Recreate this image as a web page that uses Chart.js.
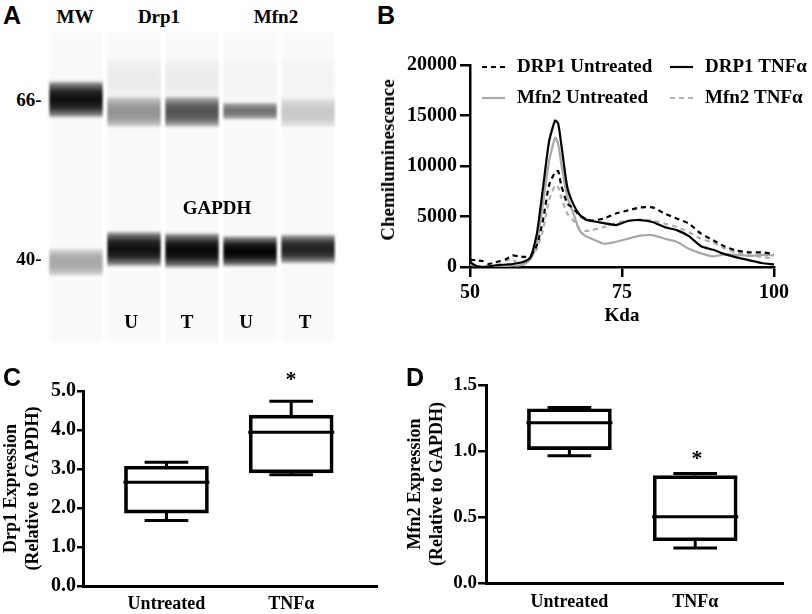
<!DOCTYPE html>
<html>
<head>
<meta charset="utf-8">
<title>Drp1 and Mfn2 expression</title>
<script src="https://cdn.jsdelivr.net/npm/chart.js@4"></script>
<style>
    html, body { margin: 0; padding: 0; background: #fff; }
    #page { position: relative; width: 812px; height: 614px; overflow: hidden; font-family: "Liberation Serif", serif; font-weight: bold; color: #000; }
    canvas { position: absolute; }
    #gel { left: 47px; top: 32px; filter: blur(0.8px); }
    #trace { left: 370px; top: 50px; }
    #drp1 { left: 0; top: 370px; }
    #mfn2 { left: 400px; top: 370px; }
    .t { position: absolute; font-size: 19px; line-height: 20px; white-space: nowrap; transform: translate(-50%, -50%); }
    .p { position: absolute; font-family: "Liberation Sans", sans-serif; font-size: 25px; line-height: 26px; }
    .s { position: absolute; font-size: 22px; line-height: 22px; transform: translate(-50%, -50%); }
</style>
</head>
<body>
<div id="page">
    <canvas id="gel" width="290" height="310"></canvas>
    <canvas id="trace" width="442" height="280"></canvas>
    <canvas id="drp1" width="400" height="244"></canvas>
    <canvas id="mfn2" width="412" height="244"></canvas>

    <div class="p" style="left:3px;top:2px">A</div>
    <div class="p" style="left:377px;top:2px">B</div>
    <div class="p" style="left:3px;top:364px">C</div>
    <div class="p" style="left:406px;top:364px">D</div>

    <div class="t" style="left:75px;top:17px">MW</div>
    <div class="t" style="left:159px;top:17px">Drp1</div>
    <div class="t" style="left:276px;top:17px">Mfn2</div>
    <div class="t" style="left:29px;top:100px">66-</div>
    <div class="t" style="left:29px;top:259px">40-</div>
    <div class="t" style="left:217px;top:208px">GAPDH</div>
    <div class="t" style="left:131px;top:322px">U</div>
    <div class="t" style="left:187px;top:322px">T</div>
    <div class="t" style="left:246px;top:322px">U</div>
    <div class="t" style="left:305px;top:322px">T</div>
    <div class="t" style="left:388px;top:160px;transform:translate(-50%,-50%) rotate(-90deg)">Chemiluminescence</div>

    <div class="s" style="left:291px;top:379px">*</div>
    <div class="s" style="left:697px;top:458px">*</div>
</div>

<script>
// panel A, capillary gel: one value per lane, in percent of the lane length
var lanes = ['MW', 'Drp1 U', 'Drp1 T', 'Mfn2 U', 'Mfn2 T'];
var smearTop = [0, 8, 8, 8, 8];
var smearBottom = [0, 22, 22, 23, 23];
var smearPeak = [0, 0.06, 0.06, 0.025, 0.025];
var upperTop = [15.5, 20.5, 20.5, 22.5, 21];
var upperBottom = [28, 31, 31, 28.5, 31];
var upperPeak = [0.95, 0.42, 0.68, 0.55, 0.2];
var lowerTop = [69.5, 64, 64.5, 65.5, 65];
var lowerBottom = [79, 76, 76.5, 76, 75];
var lowerPeak = [0.33, 0.95, 0.98, 1, 0.88];

// panel B, electropherogram
var kda = [50, 51, 52, 53, 54, 55, 56, 57, 58, 59, 60, 61, 62, 63, 64, 64.5, 65, 66, 67, 68, 69, 70,
    72, 74, 76, 78, 80, 82, 84, 86, 88, 90, 92, 94, 96, 98, 100];
var drp1Untreated = [730, 660, 600, 300, 430, 600, 800, 1150, 1050, 1000, 1150, 2150, 4600, 8100, 9400, 9500, 8100, 6300, 5800, 5100, 4800, 4600,
    4800, 5300, 5600, 5900, 5900, 5300, 4800, 4300, 3300, 2650, 2000, 1600, 1450, 1450, 1300];
var drp1Tnf = [500, 100, 0, 50, 150, 200, 250, 300, 400, 550, 1000, 3300, 7800, 12400, 14500, 14200, 12200, 7900, 6200, 5200, 4700, 4550,
    4350, 4150, 4550, 4650, 4450, 3950, 3650, 3050, 2050, 1700, 1250, 930, 660, 400, 250];
var mfn2Untreated = [300, 100, 0, 20, 30, 50, 100, 150, 150, 300, 800, 2300, 6300, 10400, 12800, 12200, 10250, 6950, 5300, 3650, 3050, 2800,
    2300, 2500, 2800, 3100, 3150, 2800, 2500, 1800, 1350, 1050, 1250, 1200, 1100, 1200, 1150];
var mfn2Tnf = [250, 130, 50, 80, 130, 330, 650, 730, 330, 600, 1000, 1800, 3650, 6600, 8100, 7900, 6900, 5300, 4600, 3800, 3570, 3650,
    3950, 4350, 4600, 4700, 4600, 4300, 3950, 3450, 2800, 2400, 1800, 1400, 1150, 1000, 800];
var traceTicksY = [0, 5000, 10000, 15000, 20000];
var traceTicksX = [50, 75, 100];

// panels C and D, box plots
var groups = ['Untreated', 'TNFα'];
var drp1Min = [1.68, 2.85];
var drp1Q1 = [1.87, 2.9];
var drp1Median = [2.66, 3.94];
var drp1Q3 = [3.07, 4.38];
var drp1Max = [3.17, 4.74];
var mfn2Min = [0.964, 0.266];
var mfn2Q1 = [1.01, 0.32];
var mfn2Median = [1.214, 0.501];
var mfn2Q3 = [1.32, 0.813];
var mfn2Max = [1.33, 0.83];

var serif = 'Liberation Serif';

function zip(a, b) {
    return a.map(function(v, i) { return [v, b[i]]; });
}

// vertical fade of a band, darkest in the middle
function bandFill(ctx) {
    if (!ctx.raw) return 'transparent';
    var y = ctx.chart.scales.y;
    var peak = ctx.dataset.peak[ctx.dataIndex];
    var y0 = y.getPixelForValue(ctx.raw[0]);
    var y1 = y.getPixelForValue(ctx.raw[1]);
    if (!isFinite(y0) || !isFinite(y1)) return 'transparent'; // scale not laid out yet
    var g = ctx.chart.ctx.createLinearGradient(0, y0, 0, y1);
    g.addColorStop(0, 'rgba(0,0,0,0)');
    g.addColorStop(0.12, 'rgba(0,0,0,' + peak * 0.55 + ')');
    g.addColorStop(0.3, 'rgba(0,0,0,' + peak * 0.9 + ')');
    g.addColorStop(0.5, 'rgba(0,0,0,' + peak + ')');
    g.addColorStop(0.7, 'rgba(0,0,0,' + peak * 0.9 + ')');
    g.addColorStop(0.88, 'rgba(0,0,0,' + peak * 0.55 + ')');
    g.addColorStop(1, 'rgba(0,0,0,0)');
    return g;
}

new Chart(document.getElementById('gel'), {
    type: 'bar',
    data: {
        labels: lanes,
        datasets: [
            { data: zip(upperTop, upperBottom), peak: upperPeak, backgroundColor: bandFill },
            { data: zip(lowerTop, lowerBottom), peak: lowerPeak, backgroundColor: bandFill },
            { data: zip(smearTop, smearBottom), peak: smearPeak, backgroundColor: bandFill },
            { data: lanes.map(function() { return [0, 100]; }), backgroundColor: '#fafafa' }
        ]
    },
    options: {
        responsive: false,
        animation: false,
        grouped: false,
        categoryPercentage: 1,
        barPercentage: 0.92,
        scales: {
            x: { display: false },
            y: { display: false, min: 0, max: 100, reverse: true }
        },
        plugins: { legend: { display: false }, tooltip: { enabled: false } }
    }
});

// two by two legend inside the plot, built from the datasets
var traceLegend = {
    id: 'traceLegend',
    afterDraw: function(chart) {
        var c = chart.ctx;
        var left = chart.chartArea.left;
        var top = chart.chartArea.top;
        chart.data.datasets.forEach(function(ds, i) {
            var col = i % 2;
            var row = i < 2 ? 0 : 1;
            var x = left + 12 + col * 188;
            var y = top + 2 + row * 31;
            c.save();
            c.strokeStyle = ds.borderColor;
            c.lineWidth = 2.2;
            c.setLineDash(ds.borderDash || []);
            c.beginPath();
            c.moveTo(x, y);
            c.lineTo(x + 23, y);
            c.stroke();
            c.restore();
            c.fillStyle = '#000';
            c.font = 'bold 19px "' + serif + '"';
            c.textAlign = 'left';
            c.textBaseline = 'middle';
            c.fillText(ds.label, x + 35, y);
        });
    }
};

new Chart(document.getElementById('trace'), {
    type: 'line',
    data: {
        datasets: [
            { label: 'DRP1 Untreated', data: zip(kda, drp1Untreated), borderColor: '#000', borderDash: [5, 4] },
            { label: 'DRP1 TNFα', data: zip(kda, drp1Tnf), borderColor: '#000' },
            { label: 'Mfn2 Untreated', data: zip(kda, mfn2Untreated), borderColor: '#a8a8a8' },
            { label: 'Mfn2 TNFα', data: zip(kda, mfn2Tnf), borderColor: '#b0b0b0', borderDash: [5, 4] }
        ]
    },
    options: {
        responsive: false,
        animation: false,
        layout: { padding: { top: 15, right: 38 } },
        elements: {
            line: { borderWidth: 2.2, tension: 0.2 },
            point: { radius: 0 }
        },
        scales: {
            x: {
                type: 'linear',
                min: 50,
                max: 100,
                afterBuildTicks: function(s) { s.ticks = traceTicksX.map(function(v) { return { value: v }; }); },
                afterFit: function(s) { s.height = 63; },
                grid: { drawOnChartArea: false, color: '#000', lineWidth: 2.5, tickLength: 10 },
                border: { color: '#000', width: 2.5 },
                ticks: { color: '#000', font: { family: serif, size: 20, weight: 'bold' }, padding: 4, maxRotation: 0 },
                title: { display: true, text: 'Kda', color: '#000', font: { family: serif, size: 19, weight: 'bold' }, padding: { top: 1, bottom: 3 } }
            },
            y: {
                min: 0,
                max: 20000,
                afterBuildTicks: function(s) { s.ticks = traceTicksY.map(function(v) { return { value: v }; }); },
                afterFit: function(s) { s.width = 100; },
                grid: { drawOnChartArea: false, color: '#000', lineWidth: 2.5, tickLength: 10 },
                border: { color: '#000', width: 2.5 },
                ticks: {
                    color: '#000',
                    font: { family: serif, size: 20, weight: 'bold' },
                    padding: 3,
                    callback: function(v) { return String(v); }
                }
            }
        },
        plugins: { legend: { display: false }, tooltip: { enabled: false } }
    },
    plugins: [traceLegend]
});

// median and whiskers on top of the floating bar that forms the box
var boxMarks = {
    id: 'boxMarks',
    afterDatasetsDraw: function(chart) {
        var c = chart.ctx;
        var y = chart.scales.y;
        var ds = chart.data.datasets[0];
        c.save();
        c.strokeStyle = '#000';
        c.lineWidth = 3;
        chart.getDatasetMeta(0).data.forEach(function(bar, i) {
            var half = bar.width / 2;
            var cap = half * 0.52;
            var q1 = ds.data[i].y[0];
            var q3 = ds.data[i].y[1];
            var segs = [
                [bar.x - half - 1, ds.median[i], bar.x + half + 1, ds.median[i]],
                [bar.x, q3, bar.x, ds.max[i]],
                [bar.x, q1, bar.x, ds.min[i]],
                [bar.x - cap, ds.max[i], bar.x + cap, ds.max[i]],
                [bar.x - cap, ds.min[i], bar.x + cap, ds.min[i]]
            ];
            segs.forEach(function(s) {
                c.beginPath();
                c.moveTo(s[0], y.getPixelForValue(s[1]));
                c.lineTo(s[2], y.getPixelForValue(s[3]));
                c.stroke();
            });
        });
        c.restore();
    }
};

function boxChart(id, o) {
    return new Chart(document.getElementById(id), {
        type: 'bar',
        data: {
            datasets: [{
                data: o.q1.map(function(v, i) { return { x: i + 1, y: [v, o.q3[i]] }; }),
                min: o.min,
                median: o.median,
                max: o.max,
                backgroundColor: 'transparent',
                borderColor: '#000',
                borderWidth: 3,
                borderSkipped: false,
                barThickness: 84
            }]
        },
        options: {
            responsive: false,
            animation: false,
            layout: { padding: { top: o.top, right: o.right, left: o.left } },
            scales: {
                x: {
                    type: 'linear',
                    offset: false,
                    min: o.xMin,
                    max: o.xMax,
                    afterBuildTicks: function(s) { s.ticks = groups.map(function(g, i) { return { value: i + 1 }; }); },
                    afterFit: function(s) { s.height = o.below; },
                    grid: { display: false, drawTicks: false, offset: false },
                    border: { color: '#000', width: 3 },
                    ticks: {
                        color: '#000',
                        font: { family: serif, size: 18, weight: 'bold' },
                        padding: o.labelGap,
                        maxRotation: 0,
                        callback: function(v) { return groups[v - 1]; }
                    }
                },
                y: {
                    min: 0,
                    max: o.yMax,
                    afterBuildTicks: function(s) { s.ticks = o.yTicks.map(function(v) { return { value: v }; }); },
                    afterFit: function(s) { s.width = o.axisLeft; },
                    grid: { drawOnChartArea: false, color: '#000', lineWidth: 2.5, tickLength: o.tick },
                    border: { color: '#000', width: 3 },
                    ticks: {
                        color: '#000',
                        font: { family: serif, size: o.tickSize, weight: 'bold' },
                        padding: 1,
                        callback: function(v) { return v.toFixed(1); }
                    },
                    title: {
                        display: true,
                        text: o.title,
                        color: '#000',
                        font: { family: serif, size: 18, weight: 'bold' },
                        padding: { top: 0, bottom: 0 }
                    }
                }
            },
            plugins: { legend: { display: false }, tooltip: { enabled: false } }
        },
        plugins: [boxMarks]
    });
}

boxChart('drp1', {
    q1: drp1Q1, q3: drp1Q3, min: drp1Min, median: drp1Median, max: drp1Max,
    title: ['Drp1 Expression', '(Relative to GAPDH)'],
    yMax: 5, yTicks: [0, 1, 2, 3, 4, 5], tickSize: 20, tick: 6, labelGap: 8,
    left: 1, axisLeft: 82, top: 21, right: 23, below: 28,
    xMin: 0.331, xMax: 2.688
});

boxChart('mfn2', {
    q1: mfn2Q1, q3: mfn2Q3, min: mfn2Min, median: mfn2Median, max: mfn2Max,
    title: ['Mfn2 Expression', '(Relative to GAPDH)'],
    yMax: 1.5, yTicks: [0, 0.5, 1, 1.5], tickSize: 19, tick: 8, labelGap: 9,
    left: 5, axisLeft: 81, top: 15, right: 29, below: 31,
    xMin: 0.337, xMax: 2.698
});
</script>
</body>
</html>
